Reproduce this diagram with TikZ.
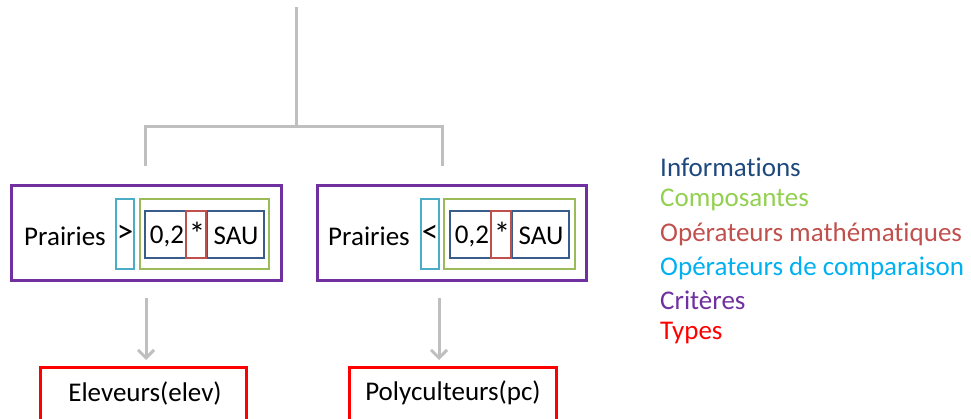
\documentclass[tikz,border=0pt]{standalone}
\usepackage{fontspec}
\setmainfont{Carlito}[Ligatures=NoCommon]
\usetikzlibrary{arrows.meta}
\definecolor{infoblue}{HTML}{385D8A}
\definecolor{infotext}{HTML}{1F497D}
\definecolor{compgreen}{HTML}{9BBB59}
\definecolor{comptext}{HTML}{92D050}
\definecolor{mathred}{HTML}{C0504D}
\definecolor{cmpcyan}{HTML}{4BACC6}
\definecolor{cmptext}{HTML}{00B0F0}
\definecolor{critpurple}{HTML}{7030A0}
\definecolor{typered}{HTML}{FF0000}
\definecolor{linegray}{HTML}{BFBFBF}
\tikzset{
  txt/.style={font=\fontsize{27}{32}\selectfont, inner sep=0pt, anchor=center},
  bigsym/.style={font=\fontsize{33}{38}\selectfont, inner sep=0pt, anchor=center},
  legend/.style={font=\fontsize{27}{32}\selectfont, inner sep=0pt, anchor=west},
  connector/.style={draw=linegray, line width=3pt},
  arrowline/.style={draw=linegray, line width=3pt, -{Straight Barb[length=8pt,width=16pt,line width=3pt]}},
  thinbox/.style={line width=2.6pt},
  thickbox/.style={line width=3pt},
}
\begin{document}
\begin{tikzpicture}[x=1pt,y=-1pt]
\useasboundingbox (0,0) rectangle (971,419);
% tree connectors
\coordinate (top) at (296,7);
\coordinate (mid) at (296,127);
\coordinate (lt) at (145,127);
\coordinate (rt) at (442,127);
\coordinate (lb) at (145,166);
\coordinate (rb) at (442,166);
\draw[connector] (top) -- (mid);
\draw[connector] (lb) -- (lt) -- (rt) -- (rb);

% left criterion
\draw[critpurple, thickbox] (11,186) rectangle (281,281);
\node[txt] (p1) at (65,236) {Prairies};
\draw[cmpcyan, thinbox] (116,199) rectangle (134,269);
\node[bigsym] (g1) at (125,234) {>};
\draw[compgreen, thinbox] (140,199) rectangle (269,269);
\draw[infoblue, thinbox] (145,211) rectangle (186,258);
\draw[infoblue, thinbox] (207,211) rectangle (264,258);
\draw[mathred, thinbox] (186,211) rectangle (206,258);
\node[txt] (n1) at (167,236) {0,2};
\node[bigsym] (m1) at (197,234) {*};
\node[txt] (s1) at (236,236) {SAU};

% right criterion
\draw[critpurple, thickbox] (317,186) rectangle (586,281);
\node[txt] (p2) at (369,236) {Prairies};
\draw[cmpcyan, thinbox] (421,199) rectangle (439,269);
\node[bigsym] (g2) at (430,234) {<};
\draw[compgreen, thinbox] (444,199) rectangle (575,269);
\draw[infoblue, thinbox] (450,211) rectangle (491,258);
\draw[infoblue, thinbox] (512,211) rectangle (569,258);
\draw[mathred, thinbox] (491,211) rectangle (511,258);
\node[txt] (n2) at (472,236) {0,2};
\node[bigsym] (m2) at (502,234) {*};
\node[txt] (s2) at (541,236) {SAU};

% arrows
\coordinate (a1s) at (146,298);
\coordinate (a1e) at (146,360);
\coordinate (a2s) at (439,298);
\coordinate (a2e) at (439,360);
\draw[arrowline] (a1s) -- (a1e);
\draw[arrowline] (a2s) -- (a2e);

% types
\draw[typered, thickbox] (40,367) rectangle (246,420);
\node[txt] (t1) at (145,393) {Eleveurs(elev)};
\draw[typered, thickbox] (349,367) rectangle (556,420);
\node[txt] (t2) at (453,393) {Polyculteurs(pc)};

% legend
\node[legend, text=infotext] (l1) at (660,167) {Informations};
\node[legend, text=comptext] (l2) at (660,200) {Composantes};
\node[legend, text=mathred] (l3) at (660,234) {Opérateurs mathématiques};
\node[legend, text=cmptext] (l4) at (660,268) {Opérateurs de comparaison};
\node[legend, text=critpurple] (l5) at (660,300) {Critères};
\node[legend, text=typered] (l6) at (660,333) {Types};
\end{tikzpicture}
\end{document}
